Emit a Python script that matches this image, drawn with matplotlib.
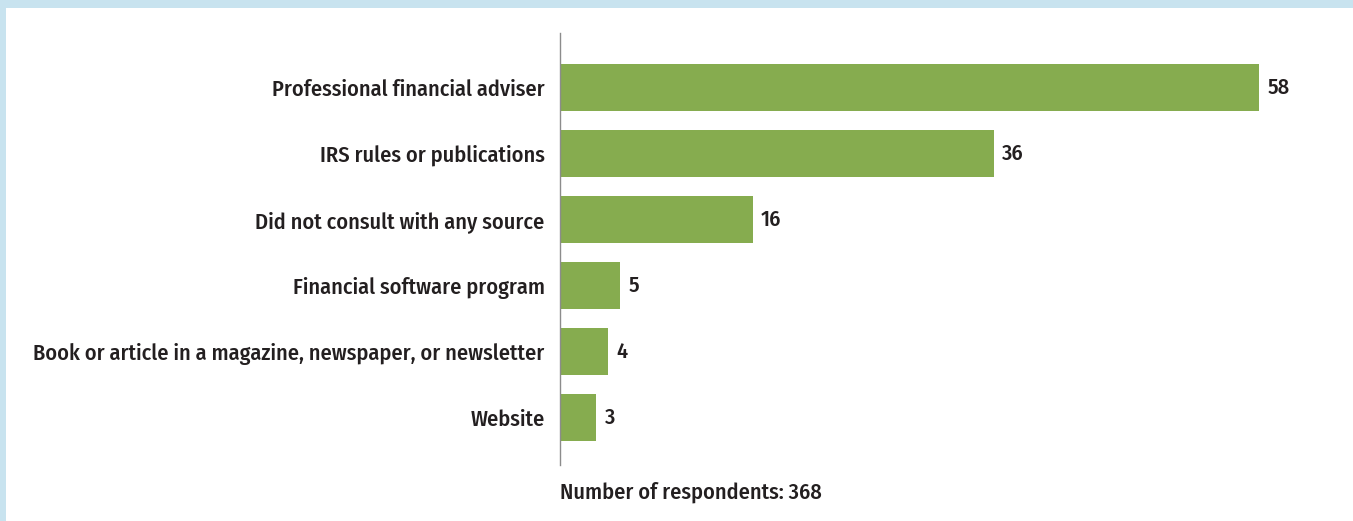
import matplotlib
matplotlib.use("Agg")
import matplotlib.pyplot as plt
from matplotlib.patches import Rectangle
from matplotlib import font_manager

categories = [
    "Professional financial adviser",
    "IRS rules or publications",
    "Did not consult with any source",
    "Financial software program",
    "Book or article in a magazine, newspaper, or newsletter",
    "Website",
]
values = [58, 36, 16, 5, 4, 3]
note = "Number of respondents: 368"

names = {f.name for f in font_manager.fontManager.ttflist}
fam = "Fira Sans Condensed" if "Fira Sans Condensed" in names else "DejaVu Sans"
plt.rcParams["font.family"] = [fam, "DejaVu Sans"]
WEIGHT = 500
TXT = "#231f20"

W, H = 1353, 521
fig = plt.figure(figsize=(W / 100, H / 100), dpi=100)
fig.patch.set_facecolor("white")

# calibrate font size so the longest label spans ~512 px as in the reference
probe = fig.text(0, 0, categories[4], fontsize=16, weight=WEIGHT)
fig.canvas.draw()
wpx = probe.get_window_extent().width
probe.remove()
FS = 16 * 512 / wpx

# light blue frame (top and left)
fig.patches.append(Rectangle((0, 1 - 8 / H), 1, 8 / H, transform=fig.transFigure,
                             facecolor="#c8e3ef", edgecolor="none", zorder=0))
fig.patches.append(Rectangle((0, 0), 6 / W, 1, transform=fig.transFigure,
                             facecolor="#c8e3ef", edgecolor="none", zorder=0))

x0, x1 = 560, 1259
y_top, y_bot = 33, 465
ax = fig.add_axes([x0 / W, 1 - y_bot / H, (x1 - x0) / W, (y_bot - y_top) / H])
ax.set_facecolor("none")

ypos = list(range(len(categories)))
ax.barh(ypos, values, height=0.71, color="#86ac4f", edgecolor="none")
ax.set_xlim(0, 58)
ax.set_ylim(5.72, -0.826)

ax.set_yticks(ypos)
ax.set_yticklabels(categories, fontsize=FS, color=TXT, weight=WEIGHT)
ax.tick_params(axis="y", length=0, pad=11)
ax.set_xticks([])

for s in ["top", "right", "bottom"]:
    ax.spines[s].set_visible(False)
ax.spines["left"].set_color("#8c8c8c")
ax.spines["left"].set_linewidth(1)

for y, v in zip(ypos, values):
    ax.annotate(str(v), (v, y), xytext=(6, 0), textcoords="offset points",
                va="center", ha="left", fontsize=FS, color=TXT, weight=WEIGHT)

fig.text(x0 / W, 1 - 492 / H, note, fontsize=FS, color=TXT, weight=WEIGHT,
         ha="left", va="center")

fig.savefig("out.png", dpi=100)
